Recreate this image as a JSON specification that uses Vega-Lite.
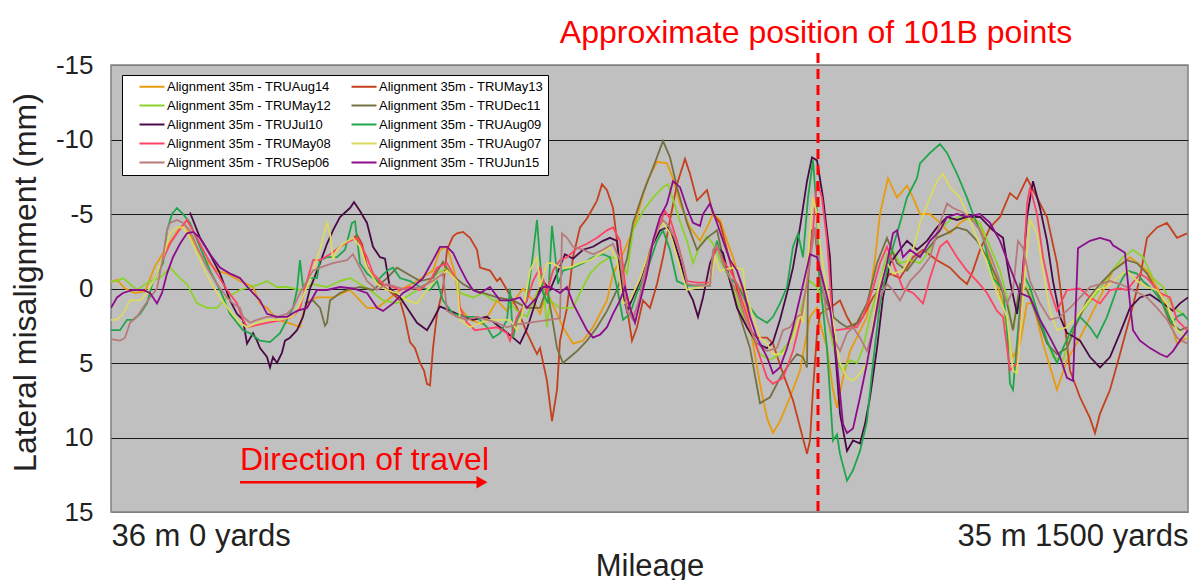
{
"$schema": "https://vega.github.io/schema/vega-lite/v6.json",
"width": 1077, "height": 447,
"autosize": {"type": "none"},
"padding": {"left": 111, "top": 65, "right": 1, "bottom": 68},
"background": "white",
"config": {"view": {"fill": "#C0C0C0", "stroke": "#808080", "strokeWidth": 1.5}, "font": "Liberation Sans"},
"datasets": {
"series": [
{"s":"Aug14","x":111,"y":-0.4},{"s":"Aug14","x":117,"y":-0.6},{"s":"Aug14","x":125,"y":0},{"s":"Aug14","x":135,"y":0.3},{"s":"Aug14","x":145,"y":0.2},{"s":"Aug14","x":155,"y":-1.5},{"s":"Aug14","x":167,"y":-2.8},{"s":"Aug14","x":180,"y":-4.1},{"s":"Aug14","x":185,"y":-4.3},{"s":"Aug14","x":200,"y":-2.3},{"s":"Aug14","x":217,"y":-1.2},{"s":"Aug14","x":227,"y":-1.0},{"s":"Aug14","x":240,"y":-0.5},{"s":"Aug14","x":253,"y":-0.1},{"s":"Aug14","x":260,"y":1.0},{"s":"Aug14","x":267,"y":1.3},{"s":"Aug14","x":277,"y":2.1},{"s":"Aug14","x":293,"y":2.4},{"s":"Aug14","x":300,"y":2.6},{"s":"Aug14","x":303,"y":1.7},{"s":"Aug14","x":310,"y":0.8},{"s":"Aug14","x":317,"y":0.6},{"s":"Aug14","x":333,"y":0.6},{"s":"Aug14","x":350,"y":0.1},{"s":"Aug14","x":367,"y":1.3},{"s":"Aug14","x":377,"y":1.3},{"s":"Aug14","x":387,"y":0.8},{"s":"Aug14","x":400,"y":0.1},{"s":"Aug14","x":417,"y":-0.5},{"s":"Aug14","x":433,"y":-1.2},{"s":"Aug14","x":440,"y":-2.6},{"s":"Aug14","x":447,"y":-2.8},{"s":"Aug14","x":455,"y":-1.0},{"s":"Aug14","x":460,"y":1.3},{"s":"Aug14","x":470,"y":2.1},{"s":"Aug14","x":483,"y":2.4},{"s":"Aug14","x":497,"y":0.8},{"s":"Aug14","x":507,"y":1.5},{"s":"Aug14","x":523,"y":0},{"s":"Aug14","x":533,"y":0.8},{"s":"Aug14","x":540,"y":1.7},{"s":"Aug14","x":547,"y":0.2},{"s":"Aug14","x":557,"y":1.7},{"s":"Aug14","x":563,"y":2.6},{"s":"Aug14","x":573,"y":3.7},{"s":"Aug14","x":583,"y":3.5},{"s":"Aug14","x":593,"y":2.6},{"s":"Aug14","x":607,"y":0.8},{"s":"Aug14","x":613,"y":-1.0},{"s":"Aug14","x":620,"y":-1.9},{"s":"Aug14","x":633,"y":-3.9},{"s":"Aug14","x":647,"y":-7.2},{"s":"Aug14","x":657,"y":-8.5},{"s":"Aug14","x":667,"y":-8.4},{"s":"Aug14","x":673,"y":-7.4},{"s":"Aug14","x":680,"y":-5.7},{"s":"Aug14","x":690,"y":-4.1},{"s":"Aug14","x":700,"y":-3.2},{"s":"Aug14","x":707,"y":-4.1},{"s":"Aug14","x":713,"y":-5.0},{"s":"Aug14","x":720,"y":-4.6},{"s":"Aug14","x":727,"y":-3.2},{"s":"Aug14","x":733,"y":-2.1},{"s":"Aug14","x":740,"y":-0.5},{"s":"Aug14","x":747,"y":1.5},{"s":"Aug14","x":753,"y":3.7},{"s":"Aug14","x":760,"y":6.4},{"s":"Aug14","x":767,"y":8.7},{"s":"Aug14","x":773,"y":9.7},{"s":"Aug14","x":780,"y":8.9},{"s":"Aug14","x":790,"y":7.3},{"s":"Aug14","x":800,"y":5.5},{"s":"Aug14","x":810,"y":1.9},{"s":"Aug14","x":817,"y":1.3},{"s":"Aug14","x":820,"y":2.3},{"s":"Aug14","x":827,"y":4.0},{"s":"Aug14","x":833,"y":6.8},{"s":"Aug14","x":837,"y":8.0},{"s":"Aug14","x":843,"y":6.0},{"s":"Aug14","x":850,"y":4.2},{"s":"Aug14","x":867,"y":1.9},{"s":"Aug14","x":875,"y":-2.0},{"s":"Aug14","x":880,"y":-5.0},{"s":"Aug14","x":888,"y":-7.4},{"s":"Aug14","x":897,"y":-6.1},{"s":"Aug14","x":907,"y":-6.9},{"s":"Aug14","x":913,"y":-6.1},{"s":"Aug14","x":920,"y":-5.0},{"s":"Aug14","x":930,"y":-5.0},{"s":"Aug14","x":940,"y":-4.4},{"s":"Aug14","x":950,"y":-3.7},{"s":"Aug14","x":960,"y":-4.4},{"s":"Aug14","x":970,"y":-4.8},{"s":"Aug14","x":980,"y":-4.4},{"s":"Aug14","x":993,"y":-1.2},{"s":"Aug14","x":1003,"y":1.0},{"s":"Aug14","x":1010,"y":4.0},{"s":"Aug14","x":1013,"y":4.6},{"s":"Aug14","x":1020,"y":3.7},{"s":"Aug14","x":1027,"y":1.0},{"s":"Aug14","x":1033,"y":1.0},{"s":"Aug14","x":1043,"y":3.7},{"s":"Aug14","x":1057,"y":6.8},{"s":"Aug14","x":1067,"y":4.8},{"s":"Aug14","x":1080,"y":3.3},{"s":"Aug14","x":1097,"y":1.0},{"s":"Aug14","x":1113,"y":-1.2},{"s":"Aug14","x":1130,"y":-2.1},{"s":"Aug14","x":1147,"y":-1.2},{"s":"Aug14","x":1163,"y":0.6},{"s":"Aug14","x":1177,"y":3.7},{"s":"Aug14","x":1187,"y":3.3},
{"s":"May13","x":352,"y":-3.3},{"s":"May13","x":357,"y":-3.6},{"s":"May13","x":362,"y":-3.0},{"s":"May13","x":367,"y":-1.5},{"s":"May13","x":373,"y":-0.8},{"s":"May13","x":380,"y":-0.3},{"s":"May13","x":390,"y":0.2},{"s":"May13","x":400,"y":0.8},{"s":"May13","x":405,"y":2.0},{"s":"May13","x":410,"y":3.6},{"s":"May13","x":415,"y":4.0},{"s":"May13","x":420,"y":5.0},{"s":"May13","x":424,"y":5.5},{"s":"May13","x":427,"y":6.4},{"s":"May13","x":430,"y":6.5},{"s":"May13","x":433,"y":4.0},{"s":"May13","x":437,"y":1.7},{"s":"May13","x":443,"y":0},{"s":"May13","x":447,"y":-2.6},{"s":"May13","x":453,"y":-3.5},{"s":"May13","x":457,"y":-3.7},{"s":"May13","x":463,"y":-3.8},{"s":"May13","x":470,"y":-3.4},{"s":"May13","x":477,"y":-2.6},{"s":"May13","x":480,"y":-1.4},{"s":"May13","x":490,"y":-1.2},{"s":"May13","x":497,"y":-0.5},{"s":"May13","x":500,"y":-0.7},{"s":"May13","x":507,"y":0.1},{"s":"May13","x":517,"y":1.3},{"s":"May13","x":527,"y":3.0},{"s":"May13","x":537,"y":4.4},{"s":"May13","x":540,"y":4.0},{"s":"May13","x":547,"y":6.2},{"s":"May13","x":552,"y":8.9},{"s":"May13","x":557,"y":6.8},{"s":"May13","x":560,"y":3.5},{"s":"May13","x":567,"y":1.3},{"s":"May13","x":573,"y":-2.1},{"s":"May13","x":580,"y":-4.1},{"s":"May13","x":587,"y":-4.7},{"s":"May13","x":597,"y":-5.9},{"s":"May13","x":602,"y":-7.0},{"s":"May13","x":607,"y":-6.6},{"s":"May13","x":613,"y":-5.4},{"s":"May13","x":617,"y":-3.2},{"s":"May13","x":622,"y":-0.3},{"s":"May13","x":627,"y":1.3},{"s":"May13","x":632,"y":3.5},{"s":"May13","x":637,"y":2.6},{"s":"May13","x":643,"y":0.8},{"s":"May13","x":650,"y":1.3},{"s":"May13","x":657,"y":-0.3},{"s":"May13","x":663,"y":-2.1},{"s":"May13","x":670,"y":-4.6},{"s":"May13","x":677,"y":-7.0},{"s":"May13","x":685,"y":-8.7},{"s":"May13","x":690,"y":-7.7},{"s":"May13","x":697,"y":-5.9},{"s":"May13","x":707,"y":-6.6},{"s":"May13","x":713,"y":-5.0},{"s":"May13","x":720,"y":-4.4},{"s":"May13","x":727,"y":-2.6},{"s":"May13","x":733,"y":-1.0},{"s":"May13","x":740,"y":0.8},{"s":"May13","x":747,"y":2.6},{"s":"May13","x":757,"y":3.3},{"s":"May13","x":767,"y":3.3},{"s":"May13","x":773,"y":3.7},{"s":"May13","x":783,"y":5.7},{"s":"May13","x":793,"y":7.5},{"s":"May13","x":800,"y":9.3},{"s":"May13","x":807,"y":11.1},{"s":"May13","x":810,"y":10.2},{"s":"May13","x":813,"y":6.8},{"s":"May13","x":817,"y":3.0},{"s":"May13","x":820,"y":1.7},{"s":"May13","x":830,"y":1.3},{"s":"May13","x":840,"y":0.8},{"s":"May13","x":847,"y":1.9},{"s":"May13","x":853,"y":2.6},{"s":"May13","x":863,"y":1.9},{"s":"May13","x":873,"y":0.6},{"s":"May13","x":880,"y":0},{"s":"May13","x":890,"y":-1.0},{"s":"May13","x":900,"y":-0.7},{"s":"May13","x":913,"y":-2.1},{"s":"May13","x":923,"y":-2.6},{"s":"May13","x":937,"y":-1.9},{"s":"May13","x":950,"y":-1.4},{"s":"May13","x":960,"y":-0.7},{"s":"May13","x":967,"y":-0.3},{"s":"May13","x":973,"y":-1.2},{"s":"May13","x":980,"y":-2.6},{"s":"May13","x":990,"y":-4.1},{"s":"May13","x":1000,"y":-4.8},{"s":"May13","x":1010,"y":-6.4},{"s":"May13","x":1017,"y":-6.0},{"s":"May13","x":1027,"y":-7.4},{"s":"May13","x":1037,"y":-6.1},{"s":"May13","x":1047,"y":-4.8},{"s":"May13","x":1057,"y":-1.7},{"s":"May13","x":1063,"y":1.3},{"s":"May13","x":1070,"y":5.5},{"s":"May13","x":1080,"y":7.3},{"s":"May13","x":1090,"y":8.7},{"s":"May13","x":1095,"y":9.7},{"s":"May13","x":1100,"y":8.4},{"s":"May13","x":1110,"y":6.8},{"s":"May13","x":1120,"y":4.4},{"s":"May13","x":1130,"y":1.9},{"s":"May13","x":1140,"y":-0.7},{"s":"May13","x":1147,"y":-3.4},{"s":"May13","x":1157,"y":-4.1},{"s":"May13","x":1167,"y":-4.4},{"s":"May13","x":1177,"y":-3.4},{"s":"May13","x":1187,"y":-3.7},
{"s":"May12","x":111,"y":-0.5},{"s":"May12","x":117,"y":-0.5},{"s":"May12","x":123,"y":-0.7},{"s":"May12","x":130,"y":-0.3},{"s":"May12","x":137,"y":0.1},{"s":"May12","x":150,"y":-0.5},{"s":"May12","x":160,"y":-0.7},{"s":"May12","x":170,"y":-1.4},{"s":"May12","x":180,"y":-0.7},{"s":"May12","x":187,"y":-0.3},{"s":"May12","x":197,"y":1.0},{"s":"May12","x":207,"y":1.3},{"s":"May12","x":217,"y":1.3},{"s":"May12","x":227,"y":0.6},{"s":"May12","x":240,"y":0.1},{"s":"May12","x":250,"y":-0.1},{"s":"May12","x":260,"y":-0.3},{"s":"May12","x":267,"y":-0.5},{"s":"May12","x":277,"y":-0.1},{"s":"May12","x":287,"y":-0.1},{"s":"May12","x":300,"y":0.1},{"s":"May12","x":313,"y":-0.3},{"s":"May12","x":327,"y":-0.1},{"s":"May12","x":340,"y":-0.5},{"s":"May12","x":350,"y":-0.7},{"s":"May12","x":360,"y":-0.3},{"s":"May12","x":370,"y":0.1},{"s":"May12","x":383,"y":0.8},{"s":"May12","x":397,"y":1.0},{"s":"May12","x":410,"y":0.4},{"s":"May12","x":423,"y":-0.1},{"s":"May12","x":437,"y":-1.0},{"s":"May12","x":447,"y":-1.4},{"s":"May12","x":457,"y":-0.7},{"s":"May12","x":460,"y":0.3},{"s":"May12","x":473,"y":0.6},{"s":"May12","x":483,"y":0.3},{"s":"May12","x":493,"y":0.8},{"s":"May12","x":507,"y":0.8},{"s":"May12","x":517,"y":1.5},{"s":"May12","x":527,"y":1.9},{"s":"May12","x":537,"y":0.3},{"s":"May12","x":543,"y":-0.5},{"s":"May12","x":547,"y":2.6},{"s":"May12","x":550,"y":0.8},{"s":"May12","x":560,"y":1.3},{"s":"May12","x":573,"y":1.3},{"s":"May12","x":580,"y":0.3},{"s":"May12","x":590,"y":-1.0},{"s":"May12","x":600,"y":-1.7},{"s":"May12","x":610,"y":-2.1},{"s":"May12","x":620,"y":-2.0},{"s":"May12","x":627,"y":-1.0},{"s":"May12","x":633,"y":-3.9},{"s":"May12","x":643,"y":-5.2},{"s":"May12","x":653,"y":-6.1},{"s":"May12","x":663,"y":-6.8},{"s":"May12","x":668,"y":-7.0},{"s":"May12","x":673,"y":-6.0},{"s":"May12","x":680,"y":-4.5},{"s":"May12","x":687,"y":-3.2},{"s":"May12","x":693,"y":-1.7},{"s":"May12","x":700,"y":-2.9},{"s":"May12","x":707,"y":-3.5},{"s":"May12","x":713,"y":-3.0},{"s":"May12","x":720,"y":-1.9},{"s":"May12","x":727,"y":-1.0},{"s":"May12","x":733,"y":-0.1},{"s":"May12","x":740,"y":1.3},{"s":"May12","x":750,"y":3.0},{"s":"May12","x":760,"y":4.4},{"s":"May12","x":770,"y":4.8},{"s":"May12","x":780,"y":4.4},{"s":"May12","x":790,"y":3.5},{"s":"May12","x":800,"y":1.7},{"s":"May12","x":807,"y":-0.3},{"s":"May12","x":810,"y":-0.5},{"s":"May12","x":817,"y":-0.1},{"s":"May12","x":827,"y":1.9},{"s":"May12","x":837,"y":5.0},{"s":"May12","x":843,"y":5.5},{"s":"May12","x":850,"y":4.8},{"s":"May12","x":857,"y":5.0},{"s":"May12","x":863,"y":4.0},{"s":"May12","x":870,"y":1.9},{"s":"May12","x":880,"y":-0.5},{"s":"May12","x":887,"y":-2.3},{"s":"May12","x":893,"y":-2.5},{"s":"May12","x":900,"y":-1.7},{"s":"May12","x":910,"y":-1.9},{"s":"May12","x":920,"y":-1.7},{"s":"May12","x":930,"y":-2.6},{"s":"May12","x":940,"y":-3.9},{"s":"May12","x":950,"y":-4.6},{"s":"May12","x":960,"y":-4.8},{"s":"May12","x":970,"y":-4.6},{"s":"May12","x":980,"y":-4.4},{"s":"May12","x":990,"y":-2.8},{"s":"May12","x":1000,"y":-1.2},{"s":"May12","x":1007,"y":0.6},{"s":"May12","x":1013,"y":2.8},{"s":"May12","x":1020,"y":0.1},{"s":"May12","x":1027,"y":-0.1},{"s":"May12","x":1033,"y":1.0},{"s":"May12","x":1043,"y":2.8},{"s":"May12","x":1053,"y":4.6},{"s":"May12","x":1063,"y":4.8},{"s":"May12","x":1073,"y":2.8},{"s":"May12","x":1083,"y":1.5},{"s":"May12","x":1097,"y":0.3},{"s":"May12","x":1110,"y":-1.0},{"s":"May12","x":1123,"y":-2.1},{"s":"May12","x":1133,"y":-2.6},{"s":"May12","x":1143,"y":-2.1},{"s":"May12","x":1153,"y":-0.7},{"s":"May12","x":1163,"y":-0.1},{"s":"May12","x":1173,"y":1.3},{"s":"May12","x":1183,"y":1.7},
{"s":"Dec11","x":305,"y":1.0},{"s":"Dec11","x":313,"y":0.8},{"s":"Dec11","x":320,"y":1.3},{"s":"Dec11","x":325,"y":2.5},{"s":"Dec11","x":327,"y":2.3},{"s":"Dec11","x":330,"y":0.8},{"s":"Dec11","x":340,"y":0.3},{"s":"Dec11","x":347,"y":0.1},{"s":"Dec11","x":360,"y":-0.1},{"s":"Dec11","x":373,"y":0.1},{"s":"Dec11","x":387,"y":-0.7},{"s":"Dec11","x":397,"y":-1.4},{"s":"Dec11","x":407,"y":-1.0},{"s":"Dec11","x":420,"y":-0.5},{"s":"Dec11","x":433,"y":-0.7},{"s":"Dec11","x":443,"y":-1.8},{"s":"Dec11","x":450,"y":-1.0},{"s":"Dec11","x":463,"y":-0.3},{"s":"Dec11","x":473,"y":0.1},{"s":"Dec11","x":483,"y":0.3},{"s":"Dec11","x":497,"y":0.6},{"s":"Dec11","x":513,"y":0.8},{"s":"Dec11","x":527,"y":1.3},{"s":"Dec11","x":540,"y":1.3},{"s":"Dec11","x":547,"y":0},{"s":"Dec11","x":552,"y":1.9},{"s":"Dec11","x":557,"y":4.0},{"s":"Dec11","x":563,"y":5.0},{"s":"Dec11","x":570,"y":4.6},{"s":"Dec11","x":577,"y":4.2},{"s":"Dec11","x":587,"y":3.5},{"s":"Dec11","x":597,"y":2.6},{"s":"Dec11","x":607,"y":1.5},{"s":"Dec11","x":617,"y":0.1},{"s":"Dec11","x":627,"y":-2.0},{"s":"Dec11","x":633,"y":-4.4},{"s":"Dec11","x":643,"y":-6.4},{"s":"Dec11","x":653,"y":-8.1},{"s":"Dec11","x":663,"y":-9.9},{"s":"Dec11","x":670,"y":-8.8},{"s":"Dec11","x":677,"y":-6.8},{"s":"Dec11","x":687,"y":-4.4},{"s":"Dec11","x":697,"y":-2.6},{"s":"Dec11","x":707,"y":-3.4},{"s":"Dec11","x":717,"y":-3.9},{"s":"Dec11","x":723,"y":-2.1},{"s":"Dec11","x":730,"y":-0.5},{"s":"Dec11","x":740,"y":1.9},{"s":"Dec11","x":750,"y":4.0},{"s":"Dec11","x":760,"y":7.7},{"s":"Dec11","x":770,"y":7.3},{"s":"Dec11","x":780,"y":6.0},{"s":"Dec11","x":790,"y":5.0},{"s":"Dec11","x":797,"y":4.4},{"s":"Dec11","x":803,"y":4.6},{"s":"Dec11","x":807,"y":5.3},{"s":"Dec11","x":808,"y":-0.3},{"s":"Dec11","x":812,"y":-3.9},{"s":"Dec11","x":815,"y":-3.9},{"s":"Dec11","x":820,"y":-0.3},{"s":"Dec11","x":827,"y":1.0},{"s":"Dec11","x":833,"y":1.9},{"s":"Dec11","x":840,"y":2.3},{"s":"Dec11","x":847,"y":2.6},{"s":"Dec11","x":857,"y":2.3},{"s":"Dec11","x":867,"y":1.0},{"s":"Dec11","x":877,"y":-1.7},{"s":"Dec11","x":887,"y":-3.4},{"s":"Dec11","x":897,"y":-1.7},{"s":"Dec11","x":907,"y":-1.2},{"s":"Dec11","x":917,"y":-2.1},{"s":"Dec11","x":927,"y":-2.6},{"s":"Dec11","x":937,"y":-3.4},{"s":"Dec11","x":947,"y":-3.7},{"s":"Dec11","x":957,"y":-4.1},{"s":"Dec11","x":967,"y":-3.9},{"s":"Dec11","x":977,"y":-3.2},{"s":"Dec11","x":987,"y":-2.1},{"s":"Dec11","x":997,"y":-0.7},{"s":"Dec11","x":1007,"y":1.0},{"s":"Dec11","x":1013,"y":2.8},{"s":"Dec11","x":1020,"y":-0.3},{"s":"Dec11","x":1027,"y":0.1},{"s":"Dec11","x":1037,"y":1.9},{"s":"Dec11","x":1047,"y":3.7},{"s":"Dec11","x":1057,"y":4.4},{"s":"Dec11","x":1067,"y":4.0},{"s":"Dec11","x":1077,"y":2.3},{"s":"Dec11","x":1087,"y":0.8},{"s":"Dec11","x":1100,"y":-0.3},{"s":"Dec11","x":1113,"y":-1.2},{"s":"Dec11","x":1127,"y":-1.9},{"s":"Dec11","x":1137,"y":-1.7},{"s":"Dec11","x":1147,"y":-1.0},{"s":"Dec11","x":1160,"y":0.6},{"s":"Dec11","x":1170,"y":2.3},{"s":"Dec11","x":1180,"y":2.8},{"s":"Dec11","x":1187,"y":2.6},
{"s":"Jul10","x":190,"y":-5.1},{"s":"Jul10","x":200,"y":-3.4},{"s":"Jul10","x":210,"y":-2.3},{"s":"Jul10","x":220,"y":-1.0},{"s":"Jul10","x":230,"y":0.8},{"s":"Jul10","x":237,"y":1.7},{"s":"Jul10","x":243,"y":2.1},{"s":"Jul10","x":247,"y":3.7},{"s":"Jul10","x":253,"y":3.0},{"s":"Jul10","x":257,"y":3.5},{"s":"Jul10","x":260,"y":4.0},{"s":"Jul10","x":267,"y":4.6},{"s":"Jul10","x":270,"y":5.3},{"s":"Jul10","x":273,"y":4.6},{"s":"Jul10","x":277,"y":5.0},{"s":"Jul10","x":282,"y":4.3},{"s":"Jul10","x":285,"y":3.5},{"s":"Jul10","x":290,"y":3.3},{"s":"Jul10","x":297,"y":2.8},{"s":"Jul10","x":303,"y":1.9},{"s":"Jul10","x":307,"y":0.8},{"s":"Jul10","x":310,"y":0},{"s":"Jul10","x":313,"y":-0.5},{"s":"Jul10","x":320,"y":-1.7},{"s":"Jul10","x":327,"y":-3.0},{"s":"Jul10","x":333,"y":-3.9},{"s":"Jul10","x":340,"y":-4.8},{"s":"Jul10","x":350,"y":-5.4},{"s":"Jul10","x":354,"y":-5.8},{"s":"Jul10","x":360,"y":-5.2},{"s":"Jul10","x":367,"y":-4.4},{"s":"Jul10","x":373,"y":-2.8},{"s":"Jul10","x":380,"y":-2.1},{"s":"Jul10","x":385,"y":-2.0},{"s":"Jul10","x":390,"y":0},{"s":"Jul10","x":400,"y":0.6},{"s":"Jul10","x":407,"y":1.3},{"s":"Jul10","x":417,"y":2.3},{"s":"Jul10","x":427,"y":2.8},{"s":"Jul10","x":433,"y":2.1},{"s":"Jul10","x":440,"y":1.2},{"s":"Jul10","x":457,"y":1.7},{"s":"Jul10","x":473,"y":2.1},{"s":"Jul10","x":487,"y":1.9},{"s":"Jul10","x":500,"y":2.6},{"s":"Jul10","x":513,"y":3.3},{"s":"Jul10","x":520,"y":3.7},{"s":"Jul10","x":527,"y":2.7},{"s":"Jul10","x":537,"y":0.6},{"s":"Jul10","x":543,"y":-0.5},{"s":"Jul10","x":550,"y":0.1},{"s":"Jul10","x":557,"y":-1.0},{"s":"Jul10","x":565,"y":-2.3},{"s":"Jul10","x":573,"y":-2.0},{"s":"Jul10","x":583,"y":-2.6},{"s":"Jul10","x":593,"y":-2.8},{"s":"Jul10","x":603,"y":-3.2},{"s":"Jul10","x":610,"y":-3.4},{"s":"Jul10","x":617,"y":-3.2},{"s":"Jul10","x":622,"y":0.1},{"s":"Jul10","x":627,"y":1.5},{"s":"Jul10","x":633,"y":0.6},{"s":"Jul10","x":640,"y":-0.5},{"s":"Jul10","x":650,"y":-2.6},{"s":"Jul10","x":660,"y":-3.9},{"s":"Jul10","x":667,"y":-4.1},{"s":"Jul10","x":673,"y":-3.4},{"s":"Jul10","x":680,"y":-1.9},{"s":"Jul10","x":687,"y":0},{"s":"Jul10","x":693,"y":0.8},{"s":"Jul10","x":698,"y":1.9},{"s":"Jul10","x":703,"y":0.6},{"s":"Jul10","x":710,"y":-1.7},{"s":"Jul10","x":717,"y":-2.8},{"s":"Jul10","x":723,"y":-2.4},{"s":"Jul10","x":730,"y":-0.5},{"s":"Jul10","x":737,"y":1.3},{"s":"Jul10","x":747,"y":2.6},{"s":"Jul10","x":757,"y":3.7},{"s":"Jul10","x":767,"y":4.0},{"s":"Jul10","x":773,"y":3.6},{"s":"Jul10","x":780,"y":2.1},{"s":"Jul10","x":787,"y":0.3},{"s":"Jul10","x":793,"y":-1.4},{"s":"Jul10","x":800,"y":-4.1},{"s":"Jul10","x":807,"y":-7.2},{"s":"Jul10","x":812,"y":-8.8},{"s":"Jul10","x":817,"y":-8.6},{"s":"Jul10","x":823,"y":-6.1},{"s":"Jul10","x":830,"y":-2.1},{"s":"Jul10","x":833,"y":2.3},{"s":"Jul10","x":840,"y":8.4},{"s":"Jul10","x":847,"y":10.9},{"s":"Jul10","x":853,"y":10.2},{"s":"Jul10","x":860,"y":10.4},{"s":"Jul10","x":865,"y":9.1},{"s":"Jul10","x":870,"y":7.3},{"s":"Jul10","x":877,"y":4.0},{"s":"Jul10","x":883,"y":0.6},{"s":"Jul10","x":890,"y":-1.7},{"s":"Jul10","x":900,"y":-2.6},{"s":"Jul10","x":907,"y":-3.2},{"s":"Jul10","x":917,"y":-2.6},{"s":"Jul10","x":927,"y":-3.2},{"s":"Jul10","x":937,"y":-4.1},{"s":"Jul10","x":947,"y":-4.8},{"s":"Jul10","x":957,"y":-4.6},{"s":"Jul10","x":967,"y":-4.8},{"s":"Jul10","x":980,"y":-4.8},{"s":"Jul10","x":993,"y":-3.9},{"s":"Jul10","x":1003,"y":-3.4},{"s":"Jul10","x":1010,"y":-0.5},{"s":"Jul10","x":1017,"y":1.7},{"s":"Jul10","x":1022,"y":-0.5},{"s":"Jul10","x":1027,"y":-4.8},{"s":"Jul10","x":1033,"y":-7.2},{"s":"Jul10","x":1040,"y":-5.4},{"s":"Jul10","x":1047,"y":-3.2},{"s":"Jul10","x":1053,"y":-0.5},{"s":"Jul10","x":1060,"y":1.9},{"s":"Jul10","x":1067,"y":3.0},{"s":"Jul10","x":1073,"y":3.2},{"s":"Jul10","x":1080,"y":3.5},{"s":"Jul10","x":1090,"y":4.6},{"s":"Jul10","x":1100,"y":5.3},{"s":"Jul10","x":1110,"y":4.6},{"s":"Jul10","x":1120,"y":3.0},{"s":"Jul10","x":1130,"y":1.3},{"s":"Jul10","x":1140,"y":0.6},{"s":"Jul10","x":1150,"y":0.4},{"s":"Jul10","x":1163,"y":1.0},{"s":"Jul10","x":1173,"y":1.5},{"s":"Jul10","x":1180,"y":1.0},{"s":"Jul10","x":1188,"y":0.6},
{"s":"Aug09","x":111,"y":2.8},{"s":"Aug09","x":120,"y":2.8},{"s":"Aug09","x":127,"y":2.1},{"s":"Aug09","x":133,"y":2.1},{"s":"Aug09","x":140,"y":1.7},{"s":"Aug09","x":147,"y":1.0},{"s":"Aug09","x":153,"y":-0.5},{"s":"Aug09","x":163,"y":-1.7},{"s":"Aug09","x":167,"y":-3.9},{"s":"Aug09","x":172,"y":-5.0},{"s":"Aug09","x":177,"y":-5.4},{"s":"Aug09","x":183,"y":-5.0},{"s":"Aug09","x":190,"y":-4.4},{"s":"Aug09","x":200,"y":-2.8},{"s":"Aug09","x":210,"y":-1.2},{"s":"Aug09","x":220,"y":0.1},{"s":"Aug09","x":230,"y":1.7},{"s":"Aug09","x":237,"y":2.3},{"s":"Aug09","x":243,"y":2.8},{"s":"Aug09","x":250,"y":3.0},{"s":"Aug09","x":260,"y":3.5},{"s":"Aug09","x":270,"y":3.6},{"s":"Aug09","x":280,"y":3.0},{"s":"Aug09","x":287,"y":2.1},{"s":"Aug09","x":293,"y":1.3},{"s":"Aug09","x":297,"y":0.1},{"s":"Aug09","x":300,"y":-1.9},{"s":"Aug09","x":303,"y":-0.1},{"s":"Aug09","x":310,"y":-0.7},{"s":"Aug09","x":317,"y":-0.7},{"s":"Aug09","x":320,"y":-1.9},{"s":"Aug09","x":327,"y":-2.1},{"s":"Aug09","x":337,"y":-2.1},{"s":"Aug09","x":345,"y":-2.6},{"s":"Aug09","x":352,"y":-4.4},{"s":"Aug09","x":355,"y":-4.5},{"s":"Aug09","x":360,"y":-1.7},{"s":"Aug09","x":367,"y":-1.0},{"s":"Aug09","x":377,"y":-0.5},{"s":"Aug09","x":387,"y":-1.2},{"s":"Aug09","x":393,"y":-1.4},{"s":"Aug09","x":400,"y":-0.7},{"s":"Aug09","x":410,"y":-0.5},{"s":"Aug09","x":420,"y":-0.1},{"s":"Aug09","x":430,"y":0.1},{"s":"Aug09","x":437,"y":-0.5},{"s":"Aug09","x":443,"y":0.8},{"s":"Aug09","x":453,"y":1.7},{"s":"Aug09","x":467,"y":1.9},{"s":"Aug09","x":477,"y":1.9},{"s":"Aug09","x":487,"y":2.6},{"s":"Aug09","x":493,"y":3.3},{"s":"Aug09","x":500,"y":3.0},{"s":"Aug09","x":507,"y":2.1},{"s":"Aug09","x":510,"y":0},{"s":"Aug09","x":513,"y":3.3},{"s":"Aug09","x":517,"y":2.1},{"s":"Aug09","x":527,"y":0.8},{"s":"Aug09","x":533,"y":-2.3},{"s":"Aug09","x":537,"y":-4.6},{"s":"Aug09","x":540,"y":-1.9},{"s":"Aug09","x":543,"y":0.3},{"s":"Aug09","x":548,"y":1.0},{"s":"Aug09","x":552,"y":-4.2},{"s":"Aug09","x":555,"y":-2.3},{"s":"Aug09","x":558,"y":-0.3},{"s":"Aug09","x":563,"y":-1.2},{"s":"Aug09","x":573,"y":-1.4},{"s":"Aug09","x":583,"y":-1.7},{"s":"Aug09","x":593,"y":-2.1},{"s":"Aug09","x":603,"y":-2.3},{"s":"Aug09","x":610,"y":-2.1},{"s":"Aug09","x":617,"y":-0.1},{"s":"Aug09","x":623,"y":2.1},{"s":"Aug09","x":630,"y":1.7},{"s":"Aug09","x":637,"y":0.3},{"s":"Aug09","x":647,"y":-1.2},{"s":"Aug09","x":657,"y":-3.2},{"s":"Aug09","x":663,"y":-3.9},{"s":"Aug09","x":670,"y":-2.6},{"s":"Aug09","x":677,"y":-0.5},{"s":"Aug09","x":687,"y":-0.2},{"s":"Aug09","x":700,"y":-0.2},{"s":"Aug09","x":710,"y":-0.2},{"s":"Aug09","x":713,"y":-2.1},{"s":"Aug09","x":717,"y":-3.2},{"s":"Aug09","x":723,"y":-1.7},{"s":"Aug09","x":730,"y":-0.7},{"s":"Aug09","x":737,"y":-0.3},{"s":"Aug09","x":747,"y":1.0},{"s":"Aug09","x":757,"y":1.9},{"s":"Aug09","x":767,"y":2.3},{"s":"Aug09","x":773,"y":1.9},{"s":"Aug09","x":780,"y":1.0},{"s":"Aug09","x":787,"y":-0.1},{"s":"Aug09","x":793,"y":-2.8},{"s":"Aug09","x":798,"y":-3.7},{"s":"Aug09","x":803,"y":-2.1},{"s":"Aug09","x":808,"y":-6.1},{"s":"Aug09","x":813,"y":-8.6},{"s":"Aug09","x":817,"y":-5.0},{"s":"Aug09","x":820,"y":-0.5},{"s":"Aug09","x":827,"y":4.0},{"s":"Aug09","x":833,"y":10.2},{"s":"Aug09","x":837,"y":9.8},{"s":"Aug09","x":840,"y":11.1},{"s":"Aug09","x":847,"y":12.9},{"s":"Aug09","x":853,"y":12.2},{"s":"Aug09","x":860,"y":10.9},{"s":"Aug09","x":867,"y":8.9},{"s":"Aug09","x":873,"y":5.0},{"s":"Aug09","x":880,"y":1.0},{"s":"Aug09","x":887,"y":-1.2},{"s":"Aug09","x":893,"y":-2.8},{"s":"Aug09","x":900,"y":-4.4},{"s":"Aug09","x":907,"y":-6.1},{"s":"Aug09","x":917,"y":-7.4},{"s":"Aug09","x":920,"y":-8.4},{"s":"Aug09","x":930,"y":-9.1},{"s":"Aug09","x":940,"y":-9.7},{"s":"Aug09","x":947,"y":-9.1},{"s":"Aug09","x":957,"y":-7.7},{"s":"Aug09","x":967,"y":-6.1},{"s":"Aug09","x":973,"y":-5.0},{"s":"Aug09","x":983,"y":-3.4},{"s":"Aug09","x":993,"y":-0.7},{"s":"Aug09","x":1003,"y":0.1},{"s":"Aug09","x":1007,"y":2.8},{"s":"Aug09","x":1010,"y":6.4},{"s":"Aug09","x":1013,"y":6.8},{"s":"Aug09","x":1018,"y":2.8},{"s":"Aug09","x":1023,"y":-1.0},{"s":"Aug09","x":1030,"y":-0.1},{"s":"Aug09","x":1037,"y":1.5},{"s":"Aug09","x":1047,"y":3.5},{"s":"Aug09","x":1057,"y":5.0},{"s":"Aug09","x":1063,"y":4.0},{"s":"Aug09","x":1073,"y":2.6},{"s":"Aug09","x":1080,"y":1.9},{"s":"Aug09","x":1090,"y":2.6},{"s":"Aug09","x":1097,"y":3.3},{"s":"Aug09","x":1107,"y":1.9},{"s":"Aug09","x":1117,"y":0},{"s":"Aug09","x":1127,"y":-1.2},{"s":"Aug09","x":1137,"y":-1.0},{"s":"Aug09","x":1143,"y":-0.5},{"s":"Aug09","x":1153,"y":0.1},{"s":"Aug09","x":1163,"y":1.0},{"s":"Aug09","x":1172,"y":2.3},{"s":"Aug09","x":1177,"y":1.9},{"s":"Aug09","x":1183,"y":1.7},{"s":"Aug09","x":1188,"y":2.1},
{"s":"May08","x":160,"y":-1.5},{"s":"May08","x":170,"y":-3.0},{"s":"May08","x":180,"y":-4.0},{"s":"May08","x":187,"y":-4.6},{"s":"May08","x":197,"y":-3.4},{"s":"May08","x":207,"y":-2.1},{"s":"May08","x":217,"y":-1.0},{"s":"May08","x":227,"y":0.1},{"s":"May08","x":237,"y":1.0},{"s":"May08","x":243,"y":2.1},{"s":"May08","x":247,"y":2.6},{"s":"May08","x":267,"y":2.3},{"s":"May08","x":283,"y":2.1},{"s":"May08","x":293,"y":1.9},{"s":"May08","x":300,"y":1.3},{"s":"May08","x":307,"y":-0.5},{"s":"May08","x":313,"y":-1.9},{"s":"May08","x":320,"y":-1.9},{"s":"May08","x":330,"y":-2.3},{"s":"May08","x":340,"y":-2.8},{"s":"May08","x":350,"y":-3.2},{"s":"May08","x":357,"y":-3.4},{"s":"May08","x":367,"y":-2.1},{"s":"May08","x":373,"y":-1.0},{"s":"May08","x":383,"y":-0.3},{"s":"May08","x":393,"y":-0.1},{"s":"May08","x":400,"y":0.1},{"s":"May08","x":410,"y":-0.1},{"s":"May08","x":420,"y":0.1},{"s":"May08","x":430,"y":-0.5},{"s":"May08","x":437,"y":-1.4},{"s":"May08","x":447,"y":-1.7},{"s":"May08","x":457,"y":-0.5},{"s":"May08","x":460,"y":1.3},{"s":"May08","x":467,"y":2.3},{"s":"May08","x":475,"y":2.8},{"s":"May08","x":487,"y":2.7},{"s":"May08","x":497,"y":2.6},{"s":"May08","x":507,"y":3.0},{"s":"May08","x":510,"y":3.5},{"s":"May08","x":517,"y":1.9},{"s":"May08","x":527,"y":0.8},{"s":"May08","x":533,"y":-0.5},{"s":"May08","x":540,"y":-1.4},{"s":"May08","x":547,"y":0.3},{"s":"May08","x":553,"y":-1.2},{"s":"May08","x":560,"y":-1.9},{"s":"May08","x":567,"y":-2.1},{"s":"May08","x":577,"y":-2.7},{"s":"May08","x":587,"y":-3.0},{"s":"May08","x":597,"y":-3.4},{"s":"May08","x":607,"y":-3.9},{"s":"May08","x":613,"y":-4.1},{"s":"May08","x":620,"y":-3.2},{"s":"May08","x":627,"y":0.8},{"s":"May08","x":633,"y":1.9},{"s":"May08","x":640,"y":0.8},{"s":"May08","x":647,"y":-1.7},{"s":"May08","x":657,"y":-3.9},{"s":"May08","x":665,"y":-5.2},{"s":"May08","x":670,"y":-4.7},{"s":"May08","x":677,"y":-3.2},{"s":"May08","x":683,"y":-1.7},{"s":"May08","x":687,"y":-0.5},{"s":"May08","x":697,"y":-0.4},{"s":"May08","x":710,"y":-0.4},{"s":"May08","x":713,"y":-2.1},{"s":"May08","x":717,"y":-2.8},{"s":"May08","x":723,"y":-1.9},{"s":"May08","x":730,"y":-1.2},{"s":"May08","x":737,"y":-0.3},{"s":"May08","x":747,"y":1.9},{"s":"May08","x":757,"y":4.0},{"s":"May08","x":767,"y":6.0},{"s":"May08","x":773,"y":6.4},{"s":"May08","x":783,"y":6.0},{"s":"May08","x":793,"y":4.2},{"s":"May08","x":802,"y":1.7},{"s":"May08","x":807,"y":-0.5},{"s":"May08","x":813,"y":-3.9},{"s":"May08","x":817,"y":-7.2},{"s":"May08","x":822,"y":-6.1},{"s":"May08","x":827,"y":-3.2},{"s":"May08","x":830,"y":-0.5},{"s":"May08","x":833,"y":2.8},{"s":"May08","x":837,"y":2.8},{"s":"May08","x":857,"y":2.6},{"s":"May08","x":863,"y":1.9},{"s":"May08","x":873,"y":0},{"s":"May08","x":880,"y":-1.7},{"s":"May08","x":887,"y":-2.8},{"s":"May08","x":893,"y":-1.7},{"s":"May08","x":903,"y":0},{"s":"May08","x":913,"y":0.3},{"s":"May08","x":923,"y":1.0},{"s":"May08","x":930,"y":-0.7},{"s":"May08","x":940,"y":-2.8},{"s":"May08","x":947,"y":-3.2},{"s":"May08","x":957,"y":-2.1},{"s":"May08","x":967,"y":-1.2},{"s":"May08","x":977,"y":-0.5},{"s":"May08","x":987,"y":0.3},{"s":"May08","x":997,"y":1.5},{"s":"May08","x":1003,"y":1.9},{"s":"May08","x":1010,"y":5.5},{"s":"May08","x":1017,"y":5.0},{"s":"May08","x":1022,"y":0.6},{"s":"May08","x":1027,"y":-5.7},{"s":"May08","x":1030,"y":-6.8},{"s":"May08","x":1037,"y":-5.0},{"s":"May08","x":1043,"y":-2.1},{"s":"May08","x":1050,"y":0.1},{"s":"May08","x":1057,"y":1.5},{"s":"May08","x":1067,"y":0.1},{"s":"May08","x":1080,"y":0},{"s":"May08","x":1090,"y":0.6},{"s":"May08","x":1100,"y":1.0},{"s":"May08","x":1110,"y":0.1},{"s":"May08","x":1120,"y":0},{"s":"May08","x":1127,"y":0.1},{"s":"May08","x":1140,"y":-1.0},{"s":"May08","x":1147,"y":-0.7},{"s":"May08","x":1160,"y":0.3},{"s":"May08","x":1170,"y":0.6},{"s":"May08","x":1177,"y":2.1},{"s":"May08","x":1187,"y":2.8},
{"s":"Aug07","x":111,"y":2.1},{"s":"Aug07","x":117,"y":2.1},{"s":"Aug07","x":123,"y":1.7},{"s":"Aug07","x":130,"y":0.8},{"s":"Aug07","x":140,"y":0.8},{"s":"Aug07","x":147,"y":0.3},{"s":"Aug07","x":157,"y":-1.0},{"s":"Aug07","x":163,"y":-2.1},{"s":"Aug07","x":170,"y":-3.7},{"s":"Aug07","x":177,"y":-4.1},{"s":"Aug07","x":183,"y":-4.1},{"s":"Aug07","x":190,"y":-3.4},{"s":"Aug07","x":200,"y":-1.9},{"s":"Aug07","x":210,"y":-0.5},{"s":"Aug07","x":220,"y":0.6},{"s":"Aug07","x":230,"y":1.5},{"s":"Aug07","x":240,"y":2.3},{"s":"Aug07","x":247,"y":2.6},{"s":"Aug07","x":257,"y":2.3},{"s":"Aug07","x":267,"y":2.1},{"s":"Aug07","x":280,"y":2.1},{"s":"Aug07","x":293,"y":1.9},{"s":"Aug07","x":300,"y":1.0},{"s":"Aug07","x":307,"y":-0.1},{"s":"Aug07","x":313,"y":-1.2},{"s":"Aug07","x":320,"y":-2.6},{"s":"Aug07","x":327,"y":-4.4},{"s":"Aug07","x":330,"y":-3.7},{"s":"Aug07","x":333,"y":-1.9},{"s":"Aug07","x":337,"y":-2.6},{"s":"Aug07","x":343,"y":-3.0},{"s":"Aug07","x":353,"y":-3.4},{"s":"Aug07","x":360,"y":-2.8},{"s":"Aug07","x":367,"y":-1.4},{"s":"Aug07","x":377,"y":-0.3},{"s":"Aug07","x":387,"y":0.1},{"s":"Aug07","x":397,"y":0.3},{"s":"Aug07","x":407,"y":0.8},{"s":"Aug07","x":417,"y":1.0},{"s":"Aug07","x":427,"y":0.1},{"s":"Aug07","x":437,"y":-0.7},{"s":"Aug07","x":447,"y":-1.2},{"s":"Aug07","x":457,"y":-0.5},{"s":"Aug07","x":460,"y":2.1},{"s":"Aug07","x":470,"y":2.6},{"s":"Aug07","x":480,"y":2.3},{"s":"Aug07","x":490,"y":2.1},{"s":"Aug07","x":500,"y":2.1},{"s":"Aug07","x":510,"y":2.1},{"s":"Aug07","x":517,"y":2.8},{"s":"Aug07","x":523,"y":1.5},{"s":"Aug07","x":530,"y":-1.2},{"s":"Aug07","x":537,"y":-2.1},{"s":"Aug07","x":540,"y":-0.1},{"s":"Aug07","x":547,"y":-1.7},{"s":"Aug07","x":553,"y":-1.7},{"s":"Aug07","x":560,"y":-1.4},{"s":"Aug07","x":570,"y":-1.4},{"s":"Aug07","x":580,"y":-1.7},{"s":"Aug07","x":590,"y":-1.9},{"s":"Aug07","x":600,"y":-2.3},{"s":"Aug07","x":610,"y":-2.8},{"s":"Aug07","x":617,"y":-1.9},{"s":"Aug07","x":623,"y":1.0},{"s":"Aug07","x":630,"y":0.8},{"s":"Aug07","x":640,"y":-0.7},{"s":"Aug07","x":647,"y":-2.1},{"s":"Aug07","x":657,"y":-3.9},{"s":"Aug07","x":663,"y":-4.4},{"s":"Aug07","x":670,"y":-3.7},{"s":"Aug07","x":677,"y":-2.1},{"s":"Aug07","x":683,"y":-0.7},{"s":"Aug07","x":687,"y":0.1},{"s":"Aug07","x":700,"y":-0.1},{"s":"Aug07","x":710,"y":-0.3},{"s":"Aug07","x":715,"y":-2.1},{"s":"Aug07","x":720,"y":-1.2},{"s":"Aug07","x":733,"y":-1.4},{"s":"Aug07","x":743,"y":-1.3},{"s":"Aug07","x":745,"y":0.1},{"s":"Aug07","x":753,"y":1.9},{"s":"Aug07","x":760,"y":3.3},{"s":"Aug07","x":767,"y":3.7},{"s":"Aug07","x":773,"y":4.4},{"s":"Aug07","x":783,"y":4.4},{"s":"Aug07","x":793,"y":3.3},{"s":"Aug07","x":800,"y":1.7},{"s":"Aug07","x":803,"y":2.3},{"s":"Aug07","x":810,"y":-3.9},{"s":"Aug07","x":813,"y":-6.1},{"s":"Aug07","x":817,"y":-5.0},{"s":"Aug07","x":820,"y":-2.8},{"s":"Aug07","x":827,"y":0.1},{"s":"Aug07","x":833,"y":2.1},{"s":"Aug07","x":840,"y":5.0},{"s":"Aug07","x":847,"y":6.0},{"s":"Aug07","x":853,"y":6.2},{"s":"Aug07","x":860,"y":5.7},{"s":"Aug07","x":867,"y":5.0},{"s":"Aug07","x":873,"y":2.3},{"s":"Aug07","x":880,"y":-0.5},{"s":"Aug07","x":887,"y":-1.7},{"s":"Aug07","x":893,"y":-1.0},{"s":"Aug07","x":903,"y":-1.2},{"s":"Aug07","x":913,"y":-2.6},{"s":"Aug07","x":920,"y":-4.4},{"s":"Aug07","x":930,"y":-6.1},{"s":"Aug07","x":937,"y":-7.2},{"s":"Aug07","x":943,"y":-7.7},{"s":"Aug07","x":950,"y":-6.8},{"s":"Aug07","x":960,"y":-6.1},{"s":"Aug07","x":967,"y":-5.0},{"s":"Aug07","x":977,"y":-3.4},{"s":"Aug07","x":987,"y":-1.7},{"s":"Aug07","x":997,"y":0.3},{"s":"Aug07","x":1007,"y":1.9},{"s":"Aug07","x":1013,"y":5.5},{"s":"Aug07","x":1017,"y":5.7},{"s":"Aug07","x":1023,"y":0.6},{"s":"Aug07","x":1030,"y":-4.6},{"s":"Aug07","x":1037,"y":-3.7},{"s":"Aug07","x":1043,"y":-1.2},{"s":"Aug07","x":1050,"y":1.5},{"s":"Aug07","x":1057,"y":2.8},{"s":"Aug07","x":1067,"y":2.6},{"s":"Aug07","x":1077,"y":1.9},{"s":"Aug07","x":1087,"y":1.0},{"s":"Aug07","x":1097,"y":0.1},{"s":"Aug07","x":1107,"y":-0.1},{"s":"Aug07","x":1117,"y":-0.7},{"s":"Aug07","x":1127,"y":-1.2},{"s":"Aug07","x":1137,"y":-0.5},{"s":"Aug07","x":1147,"y":-0.1},{"s":"Aug07","x":1157,"y":0.1},{"s":"Aug07","x":1167,"y":1.0},{"s":"Aug07","x":1177,"y":2.8},{"s":"Aug07","x":1187,"y":3.3},
{"s":"Sep06","x":111,"y":3.4},{"s":"Sep06","x":120,"y":3.5},{"s":"Sep06","x":125,"y":3.3},{"s":"Sep06","x":130,"y":2.3},{"s":"Sep06","x":137,"y":1.9},{"s":"Sep06","x":143,"y":1.3},{"s":"Sep06","x":150,"y":0.6},{"s":"Sep06","x":157,"y":0},{"s":"Sep06","x":163,"y":-2.1},{"s":"Sep06","x":167,"y":-3.9},{"s":"Sep06","x":170,"y":-4.4},{"s":"Sep06","x":177,"y":-4.6},{"s":"Sep06","x":183,"y":-4.4},{"s":"Sep06","x":190,"y":-3.9},{"s":"Sep06","x":197,"y":-2.8},{"s":"Sep06","x":207,"y":-1.4},{"s":"Sep06","x":217,"y":-0.3},{"s":"Sep06","x":227,"y":0.6},{"s":"Sep06","x":233,"y":1.0},{"s":"Sep06","x":240,"y":1.3},{"s":"Sep06","x":243,"y":1.9},{"s":"Sep06","x":250,"y":2.3},{"s":"Sep06","x":257,"y":2.1},{"s":"Sep06","x":267,"y":1.9},{"s":"Sep06","x":277,"y":1.9},{"s":"Sep06","x":287,"y":1.7},{"s":"Sep06","x":293,"y":1.3},{"s":"Sep06","x":300,"y":0.3},{"s":"Sep06","x":307,"y":-0.5},{"s":"Sep06","x":313,"y":-1.2},{"s":"Sep06","x":320,"y":-1.4},{"s":"Sep06","x":333,"y":-1.7},{"s":"Sep06","x":347,"y":-1.9},{"s":"Sep06","x":353,"y":-2.3},{"s":"Sep06","x":360,"y":-1.4},{"s":"Sep06","x":367,"y":-0.5},{"s":"Sep06","x":377,"y":0.1},{"s":"Sep06","x":387,"y":-0.3},{"s":"Sep06","x":397,"y":-0.1},{"s":"Sep06","x":407,"y":0.1},{"s":"Sep06","x":420,"y":-0.1},{"s":"Sep06","x":433,"y":-0.5},{"s":"Sep06","x":443,"y":-1.0},{"s":"Sep06","x":447,"y":1.5},{"s":"Sep06","x":457,"y":1.9},{"s":"Sep06","x":467,"y":2.1},{"s":"Sep06","x":477,"y":1.9},{"s":"Sep06","x":487,"y":2.1},{"s":"Sep06","x":497,"y":2.3},{"s":"Sep06","x":507,"y":2.6},{"s":"Sep06","x":517,"y":2.4},{"s":"Sep06","x":560,"y":2.0},{"s":"Sep06","x":562,"y":-3.7},{"s":"Sep06","x":567,"y":-3.4},{"s":"Sep06","x":573,"y":-2.8},{"s":"Sep06","x":583,"y":-2.6},{"s":"Sep06","x":593,"y":-2.3},{"s":"Sep06","x":603,"y":-2.6},{"s":"Sep06","x":613,"y":-3.0},{"s":"Sep06","x":620,"y":-1.9},{"s":"Sep06","x":627,"y":1.5},{"s":"Sep06","x":633,"y":2.1},{"s":"Sep06","x":640,"y":0.5},{"s":"Sep06","x":645,"y":-1.2},{"s":"Sep06","x":650,"y":-2.6},{"s":"Sep06","x":657,"y":-3.9},{"s":"Sep06","x":663,"y":-4.6},{"s":"Sep06","x":670,"y":-4.1},{"s":"Sep06","x":677,"y":-3.0},{"s":"Sep06","x":683,"y":-1.7},{"s":"Sep06","x":687,"y":-0.3},{"s":"Sep06","x":697,"y":-0.2},{"s":"Sep06","x":710,"y":-0.2},{"s":"Sep06","x":713,"y":-2.6},{"s":"Sep06","x":717,"y":-2.9},{"s":"Sep06","x":723,"y":-1.7},{"s":"Sep06","x":730,"y":-0.7},{"s":"Sep06","x":737,"y":0.3},{"s":"Sep06","x":747,"y":2.3},{"s":"Sep06","x":757,"y":3.7},{"s":"Sep06","x":767,"y":4.2},{"s":"Sep06","x":777,"y":4.0},{"s":"Sep06","x":783,"y":2.8},{"s":"Sep06","x":790,"y":2.6},{"s":"Sep06","x":797,"y":1.9},{"s":"Sep06","x":802,"y":1.7},{"s":"Sep06","x":807,"y":-0.5},{"s":"Sep06","x":812,"y":-2.8},{"s":"Sep06","x":815,"y":-4.1},{"s":"Sep06","x":820,"y":-1.4},{"s":"Sep06","x":827,"y":1.9},{"s":"Sep06","x":833,"y":3.3},{"s":"Sep06","x":840,"y":4.2},{"s":"Sep06","x":847,"y":3.0},{"s":"Sep06","x":853,"y":2.6},{"s":"Sep06","x":860,"y":3.3},{"s":"Sep06","x":867,"y":4.2},{"s":"Sep06","x":873,"y":2.8},{"s":"Sep06","x":880,"y":0.6},{"s":"Sep06","x":887,"y":-0.3},{"s":"Sep06","x":893,"y":0.1},{"s":"Sep06","x":900,"y":0.8},{"s":"Sep06","x":910,"y":-0.5},{"s":"Sep06","x":920,"y":-1.2},{"s":"Sep06","x":930,"y":-2.1},{"s":"Sep06","x":940,"y":-4.4},{"s":"Sep06","x":947,"y":-5.7},{"s":"Sep06","x":953,"y":-5.4},{"s":"Sep06","x":960,"y":-5.2},{"s":"Sep06","x":970,"y":-4.8},{"s":"Sep06","x":980,"y":-3.9},{"s":"Sep06","x":990,"y":-2.3},{"s":"Sep06","x":1000,"y":-0.5},{"s":"Sep06","x":1007,"y":1.0},{"s":"Sep06","x":1013,"y":0.1},{"s":"Sep06","x":1018,"y":-3.2},{"s":"Sep06","x":1023,"y":-2.7},{"s":"Sep06","x":1030,"y":-0.5},{"s":"Sep06","x":1040,"y":1.0},{"s":"Sep06","x":1050,"y":2.1},{"s":"Sep06","x":1060,"y":1.9},{"s":"Sep06","x":1070,"y":1.3},{"s":"Sep06","x":1080,"y":0.6},{"s":"Sep06","x":1090,"y":-0.1},{"s":"Sep06","x":1100,"y":-0.3},{"s":"Sep06","x":1110,"y":-0.5},{"s":"Sep06","x":1120,"y":-0.3},{"s":"Sep06","x":1133,"y":0.1},{"s":"Sep06","x":1147,"y":0.6},{"s":"Sep06","x":1157,"y":1.3},{"s":"Sep06","x":1167,"y":2.1},{"s":"Sep06","x":1177,"y":3.3},{"s":"Sep06","x":1187,"y":3.7},
{"s":"Jun15","x":111,"y":1.3},{"s":"Jun15","x":117,"y":0.6},{"s":"Jun15","x":123,"y":0.3},{"s":"Jun15","x":133,"y":0.1},{"s":"Jun15","x":143,"y":0.1},{"s":"Jun15","x":150,"y":0.3},{"s":"Jun15","x":157,"y":1.0},{"s":"Jun15","x":162,"y":0.3},{"s":"Jun15","x":167,"y":-1.0},{"s":"Jun15","x":173,"y":-2.1},{"s":"Jun15","x":180,"y":-3.0},{"s":"Jun15","x":187,"y":-3.7},{"s":"Jun15","x":193,"y":-3.8},{"s":"Jun15","x":200,"y":-3.4},{"s":"Jun15","x":210,"y":-2.3},{"s":"Jun15","x":220,"y":-1.4},{"s":"Jun15","x":230,"y":-1.0},{"s":"Jun15","x":240,"y":-0.7},{"s":"Jun15","x":250,"y":0.1},{"s":"Jun15","x":260,"y":0.8},{"s":"Jun15","x":267,"y":1.7},{"s":"Jun15","x":277,"y":1.9},{"s":"Jun15","x":287,"y":1.9},{"s":"Jun15","x":297,"y":1.5},{"s":"Jun15","x":307,"y":1.3},{"s":"Jun15","x":317,"y":0.1},{"s":"Jun15","x":327,"y":0.1},{"s":"Jun15","x":340,"y":-0.1},{"s":"Jun15","x":353,"y":0},{"s":"Jun15","x":367,"y":0.3},{"s":"Jun15","x":377,"y":1.3},{"s":"Jun15","x":383,"y":1.5},{"s":"Jun15","x":393,"y":1.0},{"s":"Jun15","x":403,"y":0.3},{"s":"Jun15","x":413,"y":-0.1},{"s":"Jun15","x":423,"y":-0.7},{"s":"Jun15","x":433,"y":-1.9},{"s":"Jun15","x":440,"y":-2.8},{"s":"Jun15","x":447,"y":-2.8},{"s":"Jun15","x":453,"y":-2.4},{"s":"Jun15","x":460,"y":-1.4},{"s":"Jun15","x":467,"y":-0.5},{"s":"Jun15","x":473,"y":0.1},{"s":"Jun15","x":480,"y":0.3},{"s":"Jun15","x":490,"y":-0.1},{"s":"Jun15","x":500,"y":0.8},{"s":"Jun15","x":510,"y":0.8},{"s":"Jun15","x":520,"y":0.6},{"s":"Jun15","x":527,"y":1.3},{"s":"Jun15","x":537,"y":0.6},{"s":"Jun15","x":543,"y":-0.1},{"s":"Jun15","x":550,"y":-0.1},{"s":"Jun15","x":560,"y":0.3},{"s":"Jun15","x":567,"y":-0.1},{"s":"Jun15","x":573,"y":1.0},{"s":"Jun15","x":580,"y":1.9},{"s":"Jun15","x":587,"y":2.8},{"s":"Jun15","x":593,"y":3.3},{"s":"Jun15","x":600,"y":3.1},{"s":"Jun15","x":607,"y":2.6},{"s":"Jun15","x":613,"y":1.7},{"s":"Jun15","x":620,"y":0.8},{"s":"Jun15","x":625,"y":-0.1},{"s":"Jun15","x":630,"y":1.3},{"s":"Jun15","x":635,"y":2.3},{"s":"Jun15","x":640,"y":0.9},{"s":"Jun15","x":647,"y":-1.0},{"s":"Jun15","x":653,"y":-3.2},{"s":"Jun15","x":660,"y":-4.8},{"s":"Jun15","x":667,"y":-5.7},{"s":"Jun15","x":673,"y":-7.2},{"s":"Jun15","x":680,"y":-6.8},{"s":"Jun15","x":687,"y":-5.4},{"s":"Jun15","x":693,"y":-4.4},{"s":"Jun15","x":700,"y":-4.2},{"s":"Jun15","x":703,"y":-5.0},{"s":"Jun15","x":710,"y":-5.7},{"s":"Jun15","x":717,"y":-4.4},{"s":"Jun15","x":723,"y":-3.2},{"s":"Jun15","x":730,"y":-1.9},{"s":"Jun15","x":737,"y":-1.2},{"s":"Jun15","x":743,"y":0},{"s":"Jun15","x":750,"y":1.9},{"s":"Jun15","x":757,"y":3.3},{"s":"Jun15","x":767,"y":4.6},{"s":"Jun15","x":773,"y":5.7},{"s":"Jun15","x":780,"y":5.3},{"s":"Jun15","x":787,"y":4.0},{"s":"Jun15","x":793,"y":2.6},{"s":"Jun15","x":800,"y":0.6},{"s":"Jun15","x":807,"y":-1.4},{"s":"Jun15","x":810,"y":-2.3},{"s":"Jun15","x":817,"y":-2.1},{"s":"Jun15","x":823,"y":-0.5},{"s":"Jun15","x":830,"y":1.3},{"s":"Jun15","x":837,"y":5.0},{"s":"Jun15","x":843,"y":9.1},{"s":"Jun15","x":847,"y":9.7},{"s":"Jun15","x":853,"y":9.4},{"s":"Jun15","x":860,"y":7.3},{"s":"Jun15","x":867,"y":5.0},{"s":"Jun15","x":873,"y":2.8},{"s":"Jun15","x":880,"y":0.1},{"s":"Jun15","x":887,"y":-1.7},{"s":"Jun15","x":893,"y":-3.7},{"s":"Jun15","x":897,"y":-3.9},{"s":"Jun15","x":903,"y":-2.1},{"s":"Jun15","x":910,"y":-2.6},{"s":"Jun15","x":920,"y":-2.1},{"s":"Jun15","x":930,"y":-3.2},{"s":"Jun15","x":940,"y":-3.9},{"s":"Jun15","x":947,"y":-4.8},{"s":"Jun15","x":957,"y":-5.0},{"s":"Jun15","x":967,"y":-4.8},{"s":"Jun15","x":980,"y":-5.0},{"s":"Jun15","x":990,"y":-4.4},{"s":"Jun15","x":1000,"y":-3.2},{"s":"Jun15","x":1010,"y":-1.4},{"s":"Jun15","x":1020,"y":0.3},{"s":"Jun15","x":1030,"y":0.6},{"s":"Jun15","x":1040,"y":2.1},{"s":"Jun15","x":1050,"y":3.3},{"s":"Jun15","x":1060,"y":4.6},{"s":"Jun15","x":1067,"y":6.0},{"s":"Jun15","x":1073,"y":6.2},{"s":"Jun15","x":1078,"y":-2.7},{"s":"Jun15","x":1090,"y":-3.2},{"s":"Jun15","x":1100,"y":-3.4},{"s":"Jun15","x":1110,"y":-3.2},{"s":"Jun15","x":1113,"y":-2.9},{"s":"Jun15","x":1125,"y":-2.4},{"s":"Jun15","x":1127,"y":-1.0},{"s":"Jun15","x":1130,"y":1.0},{"s":"Jun15","x":1133,"y":2.8},{"s":"Jun15","x":1140,"y":3.5},{"s":"Jun15","x":1150,"y":4.0},{"s":"Jun15","x":1160,"y":4.4},{"s":"Jun15","x":1167,"y":4.6},{"s":"Jun15","x":1173,"y":4.2},{"s":"Jun15","x":1180,"y":3.5},{"s":"Jun15","x":1188,"y":2.8}
]
},
"layer": [
{
"data": {"name": "series"},
"mark": {"type": "line", "strokeWidth": 1.8, "clip": true},
"encoding": {
"x": {"field": "x", "type": "quantitative", "scale": {"domain": [111, 1188], "nice": false, "zero": false},
"axis": {"values": [111, 1188], "labelExpr": "datum.value < 500 ? '36 m 0 yards' : '35 m 1500 yards'", "labelFlush": true, "labelLimit": 500, "ticks": false, "domain": false, "grid": false, "labelFontSize": 31, "labelColor": "#222222", "labelPadding": 9, "title": "Mileage", "titleFontSize": 31, "titleFontWeight": "normal", "titleColor": "#222222", "titlePadding": 0}},
"y": {"field": "y", "type": "quantitative", "scale": {"domain": [-15, 15], "reverse": true, "nice": false, "zero": false},
"axis": {"values": [-15, -10, -5, 0, 5, 10, 15], "labelExpr": "'' + datum.value", "ticks": false, "domain": false, "grid": true, "gridColor": {"condition": {"test": "abs(datum.value) == 15", "value": "#808080"}, "value": "#1a1a1a"}, "gridWidth": 1.2, "labelFontSize": 26, "labelPadding": 18, "labelColor": "#222222", "title": "Lateral misalignment (mm)", "titleFontSize": 32, "titleFontWeight": "normal", "titleColor": "#222222", "titleX": -76, "titleY": 217, "titleAngle": -90, "titleBaseline": "alphabetic", "titleAlign": "center"}},
"color": {"field": "s", "type": "nominal",
"scale": {"domain": ["Aug14", "May12", "Jul10", "May08", "Sep06", "May13", "Dec11", "Aug09", "Aug07", "Jun15"],
"range": ["#E89B0C", "#8DD22A", "#4A0A46", "#FF4365", "#B77A7A", "#C5401C", "#757040", "#1FA64C", "#DADA5E", "#8C0C8C"]},
"legend": {"orient": "none", "legendX": 11, "legendY": 10, "columns": 2, "title": null, "fillColor": "white", "strokeColor": "#000000", "padding": 5, "symbolType": "M1.2,0H6.2", "symbolSize": 100, "symbolStrokeWidth": 2, "symbolFillColor": "transparent", "labelFontSize": 13, "labelColor": "#000000", "labelExpr": "'Alignment 35m - TRU' + datum.label", "columnPadding": 8, "rowPadding": 5, "labelOffset": 27, "labelLimit": 300}}
}
},
{
"data": {"values": [{"x": 818, "y": -15.8, "y2": 15}]},
"mark": {"type": "rule", "color": "#FF0000", "strokeWidth": 3, "strokeDash": [10, 6], "clip": false},
"encoding": {"x": {"field": "x", "type": "quantitative"}, "y": {"field": "y", "type": "quantitative"}, "y2": {"field": "y2"}}
},
{
"data": {"values": [{"x": 240, "x2": 478, "y": 13.0}]},
"mark": {"type": "rule", "color": "#FF0000", "strokeWidth": 2.5},
"encoding": {"x": {"field": "x", "type": "quantitative"}, "x2": {"field": "x2"}, "y": {"field": "y", "type": "quantitative"}}
},
{
"data": {"values": [{"x": 482, "y": 13.0}]},
"mark": {"type": "point", "shape": "triangle-right", "filled": true, "color": "#FF0000", "size": 160, "opacity": 1},
"encoding": {"x": {"field": "x", "type": "quantitative"}, "y": {"field": "y", "type": "quantitative"}}
},
{
"data": {"values": [{"x": 816, "y": -16.5, "t": "Approximate position of 101B points"}]},
"mark": {"type": "text", "color": "#FF0000", "fontSize": 32, "baseline": "alphabetic", "align": "center", "clip": false},
"encoding": {"x": {"field": "x", "type": "quantitative"}, "y": {"field": "y", "type": "quantitative"}, "text": {"field": "t"}}
},
{
"data": {"values": [{"x": 240, "y": 12.2, "t": "Direction of travel"}]},
"mark": {"type": "text", "color": "#FF0000", "fontSize": 32, "baseline": "alphabetic", "align": "left", "clip": false},
"encoding": {"x": {"field": "x", "type": "quantitative"}, "y": {"field": "y", "type": "quantitative"}, "text": {"field": "t"}}
}
]
}
